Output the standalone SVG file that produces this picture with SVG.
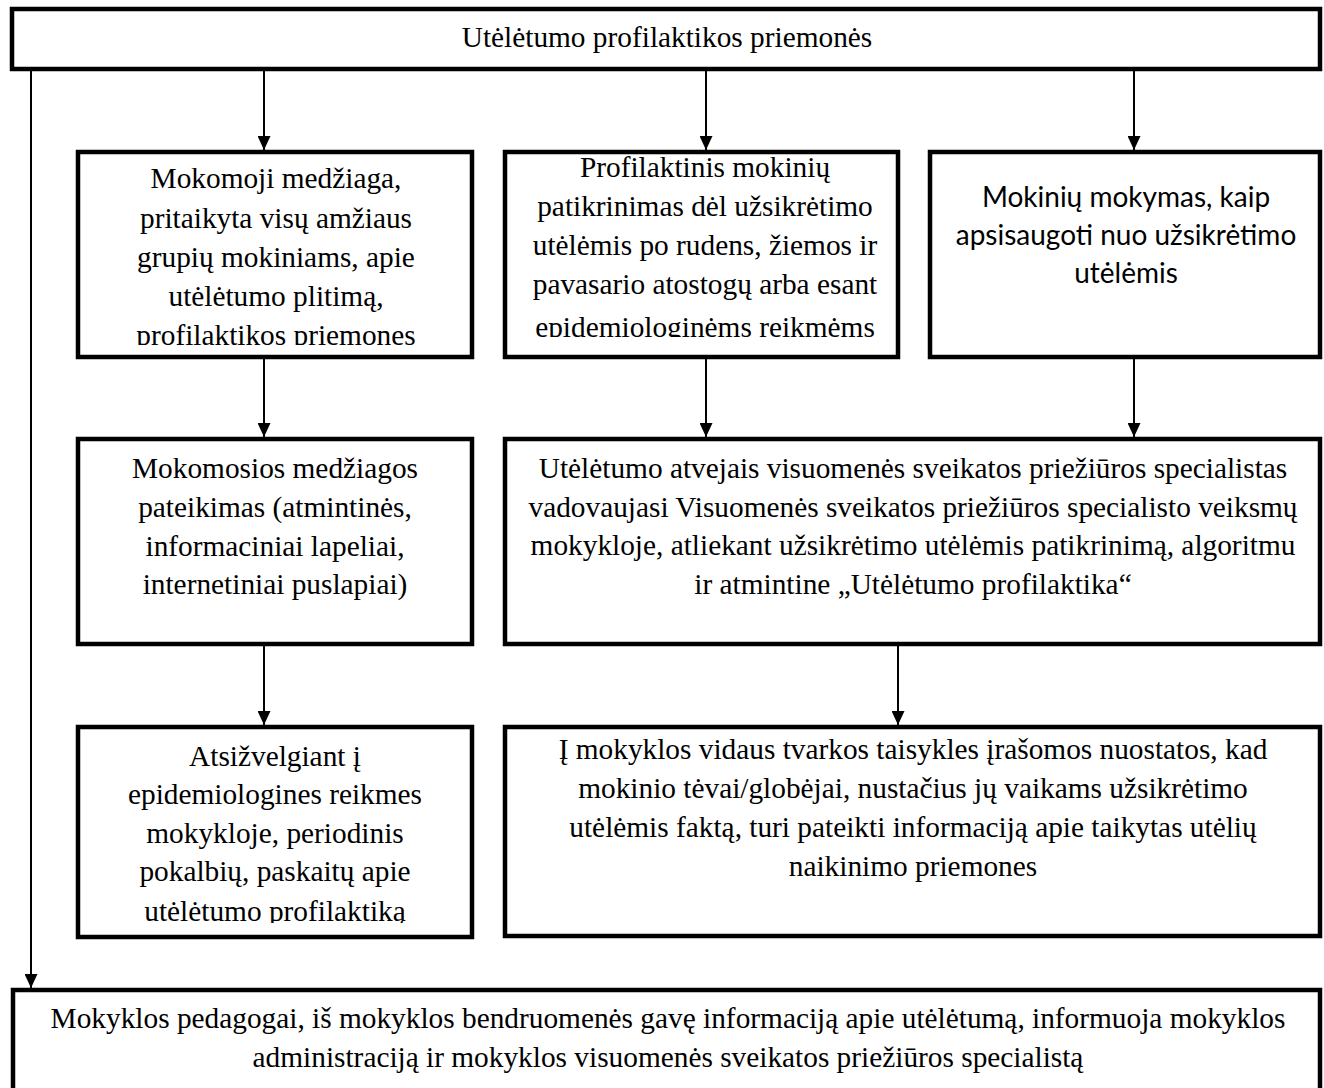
<svg xmlns="http://www.w3.org/2000/svg" width="1324" height="1088" viewBox="0 0 1324 1088">
<style>
.box{fill:#fff;stroke:#000;stroke-width:4.5}
.t{font-family:"Liberation Serif","Times New Roman",serif;font-size:29.33px;fill:#000;text-anchor:middle}
.c{font-family:Lato,"Open Sans",sans-serif;font-size:28px;fill:#000;text-anchor:middle}
.ln{stroke:#000;stroke-width:2;fill:none}
</style>
<defs>
<marker id="ah" markerWidth="14" markerHeight="13" refX="14" refY="6.5" orient="auto" markerUnits="userSpaceOnUse">
<path d="M0,0 L14,6.5 L0,13 Z" fill="#000"/>
</marker>
<clipPath id="cl1"><rect x="78" y="152" width="394" height="193"/></clipPath>
<clipPath id="cl2"><rect x="505" y="152" width="393" height="185"/></clipPath>
<clipPath id="cl6"><rect x="78" y="727" width="394" height="196"/></clipPath>
</defs>
<rect width="1324" height="1088" fill="#fff"/>
<g id="connectors">
<line class="ln" x1="264" y1="71" x2="264" y2="150" marker-end="url(#ah)"/>
<line class="ln" x1="706" y1="71" x2="706" y2="150" marker-end="url(#ah)"/>
<line class="ln" x1="1134" y1="71" x2="1134" y2="150" marker-end="url(#ah)"/>
<line class="ln" x1="264" y1="359" x2="264" y2="437" marker-end="url(#ah)"/>
<line class="ln" x1="706" y1="359" x2="706" y2="437" marker-end="url(#ah)"/>
<line class="ln" x1="1134" y1="359" x2="1134" y2="437" marker-end="url(#ah)"/>
<line class="ln" x1="264" y1="646" x2="264" y2="725" marker-end="url(#ah)"/>
<line class="ln" x1="898" y1="646" x2="898" y2="725" marker-end="url(#ah)"/>
<line class="ln" x1="31" y1="71" x2="31" y2="988" marker-end="url(#ah)"/>
</g>
<g id="top">
<rect class="box" x="12" y="9" width="1308" height="60"/>
<text class="t" x="667" y="47">Utėlėtumo profilaktikos priemonės</text>
</g>
<g id="n1">
<rect class="box" x="78" y="152" width="394" height="205"/>
<g clip-path="url(#cl1)">
<text class="t" x="276" y="188">Mokomoji medžiaga,</text>
<text class="t" x="276" y="228">pritaikyta visų amžiaus</text>
<text class="t" x="276" y="267">grupių mokiniams, apie</text>
<text class="t" x="276" y="306">utėlėtumo plitimą,</text>
<text class="t" x="276" y="345">profilaktikos priemones</text>
</g>
</g>
<g id="n2">
<rect class="box" x="505" y="152" width="393" height="205"/>
<g clip-path="url(#cl2)">
<text class="t" x="705" y="177">Profilaktinis mokinių</text>
<text class="t" x="705" y="216">patikrinimas dėl užsikrėtimo</text>
<text class="t" x="705" y="255">utėlėmis po rudens, žiemos ir</text>
<text class="t" x="705" y="294">pavasario atostogų arba esant</text>
<text class="t" x="705" y="337">epidemiologinėms reikmėms</text>
</g>
</g>
<g id="n3">
<rect class="box" x="930" y="152" width="390" height="205"/>
<text class="c" x="1126" y="207">Mokinių mokymas, kaip</text>
<text class="c" x="1126" y="245">apsisaugoti nuo užsikrėtimo</text>
<text class="c" x="1126" y="283">utėlėmis</text>
</g>
<g id="n4">
<rect class="box" x="78" y="439" width="394" height="205"/>
<text class="t" x="275" y="478">Mokomosios medžiagos</text>
<text class="t" x="275" y="517">pateikimas (atmintinės,</text>
<text class="t" x="275" y="556">informaciniai lapeliai,</text>
<text class="t" x="275" y="594">internetiniai puslapiai)</text>
</g>
<g id="n5">
<rect class="box" x="505" y="439" width="815" height="205"/>
<text class="t" x="913" y="478">Utėlėtumo atvejais visuomenės sveikatos priežiūros specialistas</text>
<text class="t" x="913" y="517">vadovaujasi Visuomenės sveikatos priežiūros specialisto veiksmų</text>
<text class="t" x="913" y="555">mokykloje, atliekant užsikrėtimo utėlėmis patikrinimą, algoritmu</text>
<text class="t" x="913" y="594">ir atmintine „Utėlėtumo profilaktika“</text>
</g>
<g id="n6">
<rect class="box" x="78" y="727" width="394" height="210"/>
<g clip-path="url(#cl6)">
<text class="t" x="275" y="766">Atsižvelgiant į</text>
<text class="t" x="275" y="804">epidemiologines reikmes</text>
<text class="t" x="275" y="843">mokykloje, periodinis</text>
<text class="t" x="275" y="881">pokalbių, paskaitų apie</text>
<text class="t" x="275" y="921">utėlėtumo profilaktiką</text>
</g>
</g>
<g id="n7">
<rect class="box" x="505" y="727" width="815" height="209"/>
<text class="t" x="913" y="759">Į mokyklos vidaus tvarkos taisykles įrašomos nuostatos, kad</text>
<text class="t" x="913" y="798">mokinio tėvai/globėjai, nustačius jų vaikams užsikrėtimo</text>
<text class="t" x="913" y="837">utėlėmis faktą, turi pateikti informaciją apie taikytas utėlių</text>
<text class="t" x="913" y="876">naikinimo priemones</text>
</g>
<g id="bottom">
<rect class="box" x="13" y="990" width="1307" height="110"/>
<text class="t" x="668" y="1028">Mokyklos pedagogai, iš mokyklos bendruomenės gavę informaciją apie utėlėtumą, informuoja mokyklos</text>
<text class="t" x="668" y="1067">administraciją ir mokyklos visuomenės sveikatos priežiūros specialistą</text>
</g>
</svg>
